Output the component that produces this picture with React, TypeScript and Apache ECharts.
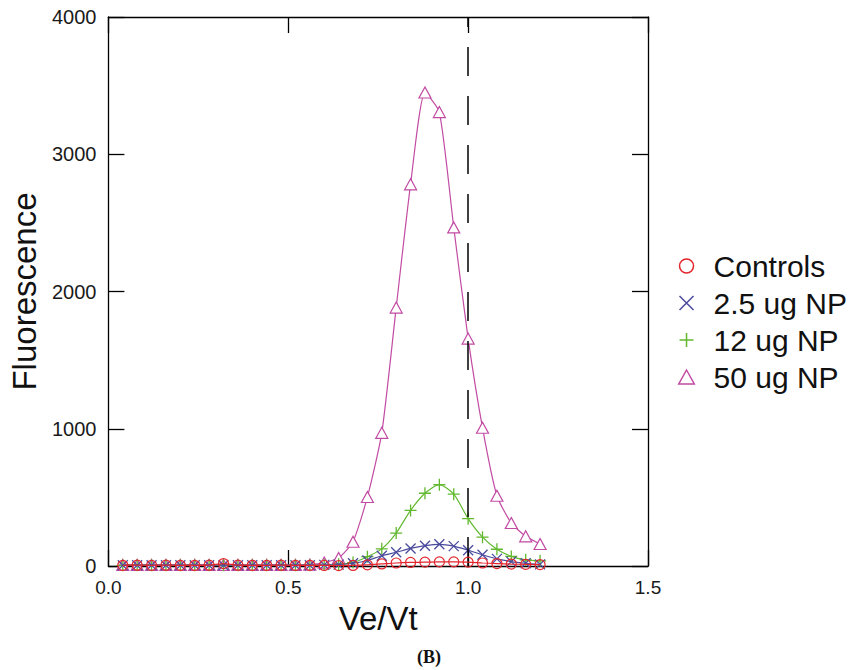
import React, { useEffect, useRef } from "react";
import * as echarts from "echarts";

const xValues = [
  0.04, 0.08, 0.12, 0.16, 0.2, 0.24, 0.28, 0.32, 0.36, 0.4,
  0.44, 0.48, 0.52, 0.56, 0.6, 0.64, 0.68, 0.72, 0.76, 0.8,
  0.84, 0.88, 0.92, 0.96, 1.0, 1.04, 1.08, 1.12, 1.16, 1.2,
];

const controls = [
  5, 6, 5, 6, 5, 5, 6, 18, 6, 5,
  5, 6, 5, 5, 4, 3, 4, 8, 15, 22,
  26, 28, 30, 30, 28, 22, 18, 14, 12, 10,
];
const np2_5 = [
  6, 6, 6, 6, 6, 6, 6, 6, 6, 6,
  6, 6, 6, 6, 8, 10, 20, 40, 75, 100,
  128, 148, 158, 145, 115, 82, 52, 32, 20, 12,
];
const np12 = [
  5, 5, 5, 5, 5, 5, 5, 5, 5, 5,
  5, 5, 5, 5, 7, 12, 25, 68, 125, 240,
  405, 530, 592, 523, 345, 210, 122, 70, 45, 38,
];
const np50 = [
  8, 8, 8, 8, 8, 8, 8, 8, 8, 8,
  8, 8, 8, 10, 25, 58, 177, 503, 970, 1883,
  2781, 3450, 3307, 2467, 1657, 1007, 512, 313, 216, 160,
];

const seriesNames = ["Controls", "2.5 ug NP", "12 ug NP", "50 ug NP"];
const seriesColors = ["#e3262d", "#4b4b9e", "#62b82e", "#c24ba3"];

const xTicks = { min: 0, max: 1.5, interval: 0.5 };
const yTicks = { min: 0, max: 4000, interval: 1000 };

const X_PATH = "path://M0,0L10,10M10,0L0,10";
const PLUS_PATH = "path://M5,0L5,10M0,5L10,5";
const TRI_PATH = "path://M5,0L10,9L0,9Z";
const CIRCLE_PATH = "path://M10,5A5,5,0,1,1,0,5A5,5,0,1,1,10,5Z";

const FONT = "'Liberation Sans', Arial, Helvetica, sans-serif";

export default function App() {
  const ref = useRef<HTMLDivElement>(null);

  useEffect(() => {
    if (!ref.current) return;
    const chart = echarts.init(ref.current, undefined, { renderer: "svg" });

    const pairs = (ys: number[]) => xValues.map((x, i) => [x, ys[i]]);

    const axisLine = { show: true, onZero: false, lineStyle: { color: "#000", width: 1.3 } };
    const tick = { show: true, inside: true, length: 16, lineStyle: { color: "#000", width: 1.3 } };

    const option: any = {
      animation: false,
      backgroundColor: "#fff",
      grid: { left: 99, right: 207, top: 17, bottom: 104, containLabel: false },
      xAxis: [
        {
          type: "value",
          position: "bottom",
          min: xTicks.min,
          max: xTicks.max,
          interval: xTicks.interval,
          axisLine,
          axisTick: tick,
          splitLine: { show: false },
          axisLabel: {
            fontSize: 19,
            color: "#1a1a1a",
            fontFamily: FONT,
            margin: 12,
            formatter: (v: number) => v.toFixed(1),
          },
          name: "Ve/Vt",
          nameLocation: "middle",
          nameGap: 36,
          nameTextStyle: { fontSize: 33, color: "#111", fontFamily: FONT },
        },
        {
          type: "value",
          position: "top",
          min: xTicks.min,
          max: xTicks.max,
          interval: xTicks.interval,
          axisLine,
          axisTick: tick,
          splitLine: { show: false },
          axisLabel: { show: false },
        },
      ],
      yAxis: [
        {
          type: "value",
          position: "left",
          min: yTicks.min,
          max: yTicks.max,
          interval: yTicks.interval,
          axisLine,
          axisTick: tick,
          splitLine: { show: false },
          axisLabel: {
            fontSize: 20,
            color: "#1a1a1a",
            fontFamily: FONT,
            margin: 12,
            formatter: (v: number) => String(v),
          },
          name: "Fluorescence",
          nameLocation: "middle",
          nameGap: 64,
          nameTextStyle: { fontSize: 33, color: "#111", fontFamily: FONT },
        },
        {
          type: "value",
          position: "right",
          min: yTicks.min,
          max: yTicks.max,
          interval: yTicks.interval,
          axisLine,
          axisTick: tick,
          splitLine: { show: false },
          axisLabel: { show: false },
        },
      ],
      legend: {
        orient: "vertical",
        left: 673,
        top: 246,
        itemWidth: 44,
        itemHeight: 14,
        itemGap: 7,
        symbolKeepAspect: true,
        textStyle: { fontSize: 30, color: "#111", fontFamily: FONT },
        data: [
          { name: seriesNames[0], icon: CIRCLE_PATH, itemStyle: { color: "transparent", borderColor: seriesColors[0], borderWidth: 1.5 } },
          { name: seriesNames[1], icon: X_PATH, itemStyle: { color: "transparent", borderColor: seriesColors[1], borderWidth: 1.5 } },
          { name: seriesNames[2], icon: PLUS_PATH, itemStyle: { color: "transparent", borderColor: seriesColors[2], borderWidth: 1.5 } },
          { name: seriesNames[3], icon: TRI_PATH, itemStyle: { color: "transparent", borderColor: seriesColors[3], borderWidth: 1.5 } },
        ],
      },
      series: [
        {
          name: seriesNames[3],
          type: "line",
          data: pairs(np50),
          smooth: 0.2,
          symbol: TRI_PATH,
          symbolSize: [12, 11],
          itemStyle: { color: "#fff", borderColor: seriesColors[3], borderWidth: 1.2 },
          lineStyle: { color: seriesColors[3], width: 1.2 },
          z: 2,
          markLine: {
            silent: true,
            symbol: "none",
            label: { show: false },
            lineStyle: { color: "#000", type: [29, 20], width: 1.5 },
            data: [{ xAxis: 1.0 }],
          },
        },
        {
          name: seriesNames[2],
          type: "line",
          data: pairs(np12),
          smooth: 0.25,
          symbol: PLUS_PATH,
          symbolSize: 12,
          itemStyle: { color: seriesColors[2], borderColor: seriesColors[2], borderWidth: 1.3 },
          lineStyle: { color: seriesColors[2], width: 1.2 },
          z: 3,
        },
        {
          name: seriesNames[1],
          type: "line",
          data: pairs(np2_5),
          smooth: 0.25,
          symbol: X_PATH,
          symbolSize: 10,
          itemStyle: { color: seriesColors[1], borderColor: seriesColors[1], borderWidth: 1.3 },
          lineStyle: { color: seriesColors[1], width: 1.2 },
          z: 4,
        },
        {
          name: seriesNames[0],
          type: "line",
          data: pairs(controls),
          smooth: 0.25,
          symbol: CIRCLE_PATH,
          symbolSize: 10,
          itemStyle: { color: "transparent", borderColor: seriesColors[0], borderWidth: 1.2 },
          lineStyle: { color: seriesColors[0], width: 1.2 },
          z: 5,
        },
      ],
      graphic: [
        {
          type: "text",
          x: 429,
          y: 657,
          style: {
            text: "(B)",
            font: "bold 18px 'Liberation Serif', 'Times New Roman', serif",
            fill: "#111",
            textAlign: "center",
            textVerticalAlign: "middle",
          },
        },
      ],
    };

    chart.setOption(option);
    return () => chart.dispose();
  }, []);

  return (
    <div
      ref={ref}
      style={{ position: "fixed", left: 0, top: 0, width: 855, height: 670, background: "#fff" }}
    />
  );
}
